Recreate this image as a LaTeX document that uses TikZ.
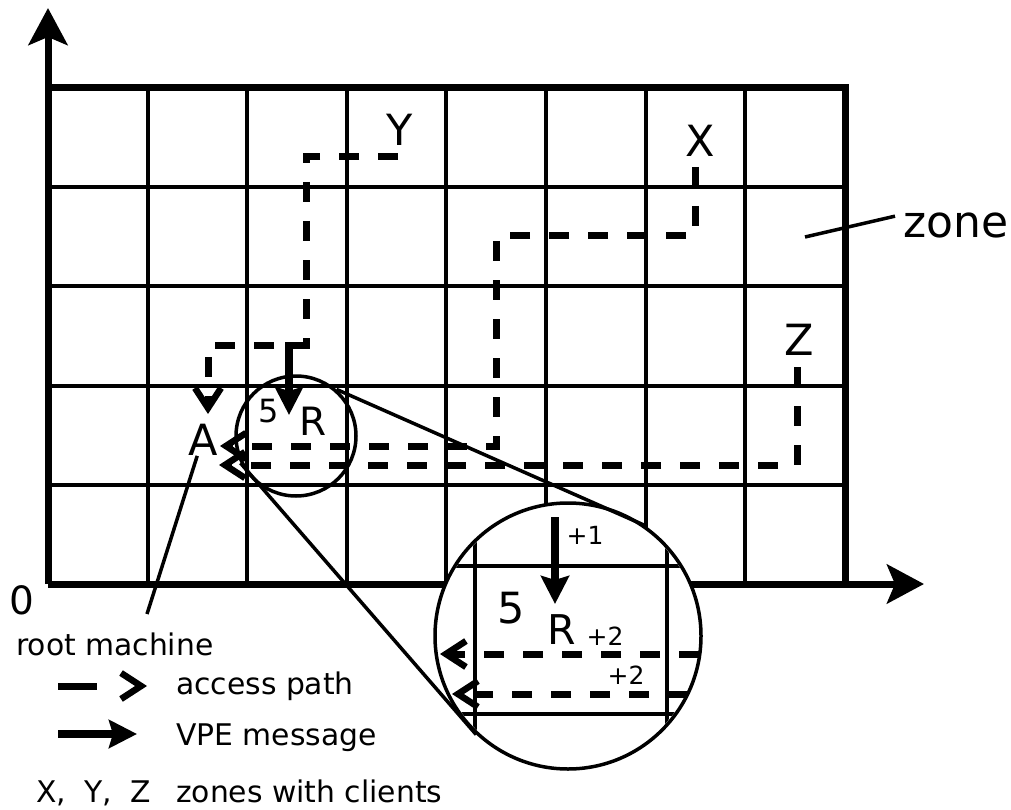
\documentclass[tikz,border=0pt]{standalone}
\usepackage{fontspec}
\setmainfont{DejaVu Sans}
\usetikzlibrary{arrows.meta}
\begin{document}
\begin{tikzpicture}[x=1pt,y=-1pt,
  gridline/.style={line width=4pt},
  thinline/.style={line width=3.5pt},
  border/.style={line width=7pt},
  axis/.style={line width=7pt,-{Stealth[length=37pt,width=39pt,inset=8pt]}},
  access/.style={line width=7pt,dash pattern=on 20pt off 19pt,
     -{Straight Barb[length=20pt,width=26pt,line width=6.5pt]}},
  vpe/.style={line width=7.5pt,-{Stealth[length=28pt,width=28pt,inset=4pt]}},
  lbl/.style={inner sep=0pt,font=\fontsize{43}{50}\selectfont},
  mid/.style={inner sep=0pt,font=\fontsize{39}{46}\selectfont},
  small/.style={inner sep=0pt,font=\fontsize{32}{38}\selectfont},
  tiny/.style={inner sep=0pt,font=\fontsize{25}{30}\selectfont},
  legend/.style={inner sep=0pt,font=\fontsize{29.8}{35}\selectfont,anchor=base west},
  ring/.style={draw,circle,line width=3.5pt,inner sep=0pt}
]
\useasboundingbox (0,0) rectangle (1011,810);

% grid
\foreach \x in {147.6,247.2,346.8,446.4,546,645.6,745.2}
  \draw[gridline] (\x,88) -- (\x,584);
\foreach \y in {187.2,286.4,385.6,484.8}
  \draw[gridline] (48,\y) -- (845,\y);
\draw[border] (48,88) -- (845,88) -- (845,584);

% axes
\coordinate (O) at (48,584);
\coordinate (ytip) at (48,8);
\coordinate (xtip) at (924,584);
\draw[axis] (O) -- (ytip);
\draw[axis] (O) -- (xtip);

% labels
\node[lbl] (Y) at (400,130) {Y};
\node[lbl] (X) at (700,141) {X};
\node[lbl] (Z) at (799,340) {Z};
\node[lbl] (A) at (203,440) {A};
\node[mid] (zero) at (22,600) {0};
\node[lbl,anchor=base west,font=\fontsize{44}{50}\selectfont] (zone) at (903,237) {zone};
\coordinate (zp) at (805,237);
\draw[thinline] (zp) -- ([shift={(-8,4)}]zone.north west);

% small circle
\node[ring,minimum size=120pt] (smallc) at (296,436) {};
\node[small] (five) at (269,411) {5};
\node[mid] (R) at (313,421) {R};

% access paths
\coordinate (ys) at (398,157);
\coordinate (ye) at (208,414);
\draw[access] (ys) -- (306,157) -- (306,345) -- (208,345) -- (ye);
\coordinate (xs) at (695,167);
\coordinate (xe) at (220,446);
\draw[access] (xs) -- (695,236) -- (496,236) -- (496,446) -- (xe);
\coordinate (zs) at (797,367);
\coordinate (ze) at (219,465);
\draw[access] (zs) -- (797,465) -- (ze);

% VPE message
\coordinate (vs) at (289,342);
\coordinate (ve) at (289,415);
\draw[vpe] (vs) -- (ve);

% root machine pointer
\coordinate (rm) at (147,614);
\draw[thinline] (A.250) -- (rm);

% big circle (zoom)
\node[ring,fill=white,minimum size=266pt] (bigc) at (568,636) {};
\draw[thinline] (smallc.49) -- (bigc.55);
\draw[thinline] (smallc.206) -- (bigc.227);
\begin{scope}
  \clip (568,636) circle[radius=131pt];
  \draw[thinline] (475,490) -- (475,790);
  \draw[thinline] (667,490) -- (667,790);
  \draw[thinline] (420,566) -- (720,566);
  \draw[thinline] (420,714) -- (720,714);
\end{scope}
\coordinate (bvs) at (555,517);
\coordinate (bve) at (555,604);
\draw[vpe] (bvs) -- (bve);
\coordinate (b1s) at (699,654);
\coordinate (b1e) at (440,654);
\draw[access] (b1s) -- (b1e);
\coordinate (b2s) at (688,694);
\coordinate (b2e) at (452,694);
\draw[access] (b2s) -- (b2e);
\node[lbl] (bfive) at (511,608) {5};
\node[mid,font=\fontsize{41}{48}\selectfont] (bR) at (562,630) {R};
\node[tiny] (p1) at (585,535) {+1};
\node[tiny] (p2a) at (605,636) {+2};
\node[tiny] (p2b) at (626,675) {+2};

% legend
\node[legend] (rmtext) at (16,655) {root machine};
\coordinate (l1s) at (58,686);
\coordinate (l1e) at (147,686);
\draw[access,dash pattern=on 39pt off 40pt] (l1s) -- (l1e);
\node[legend] (lacc) at (176,694) {access path};
\coordinate (l2s) at (58,734);
\coordinate (l2e) at (137,734);
\draw[vpe] (l2s) -- (l2e);
\node[legend] (lvpe) at (176,745) {VPE message};
\node[legend] (lxyz) at (36,802) {X,\hspace{9pt} Y,\hspace{9pt} Z};
\node[legend] (lzones) at (176,802) {zones with clients};
\end{tikzpicture}
\end{document}
